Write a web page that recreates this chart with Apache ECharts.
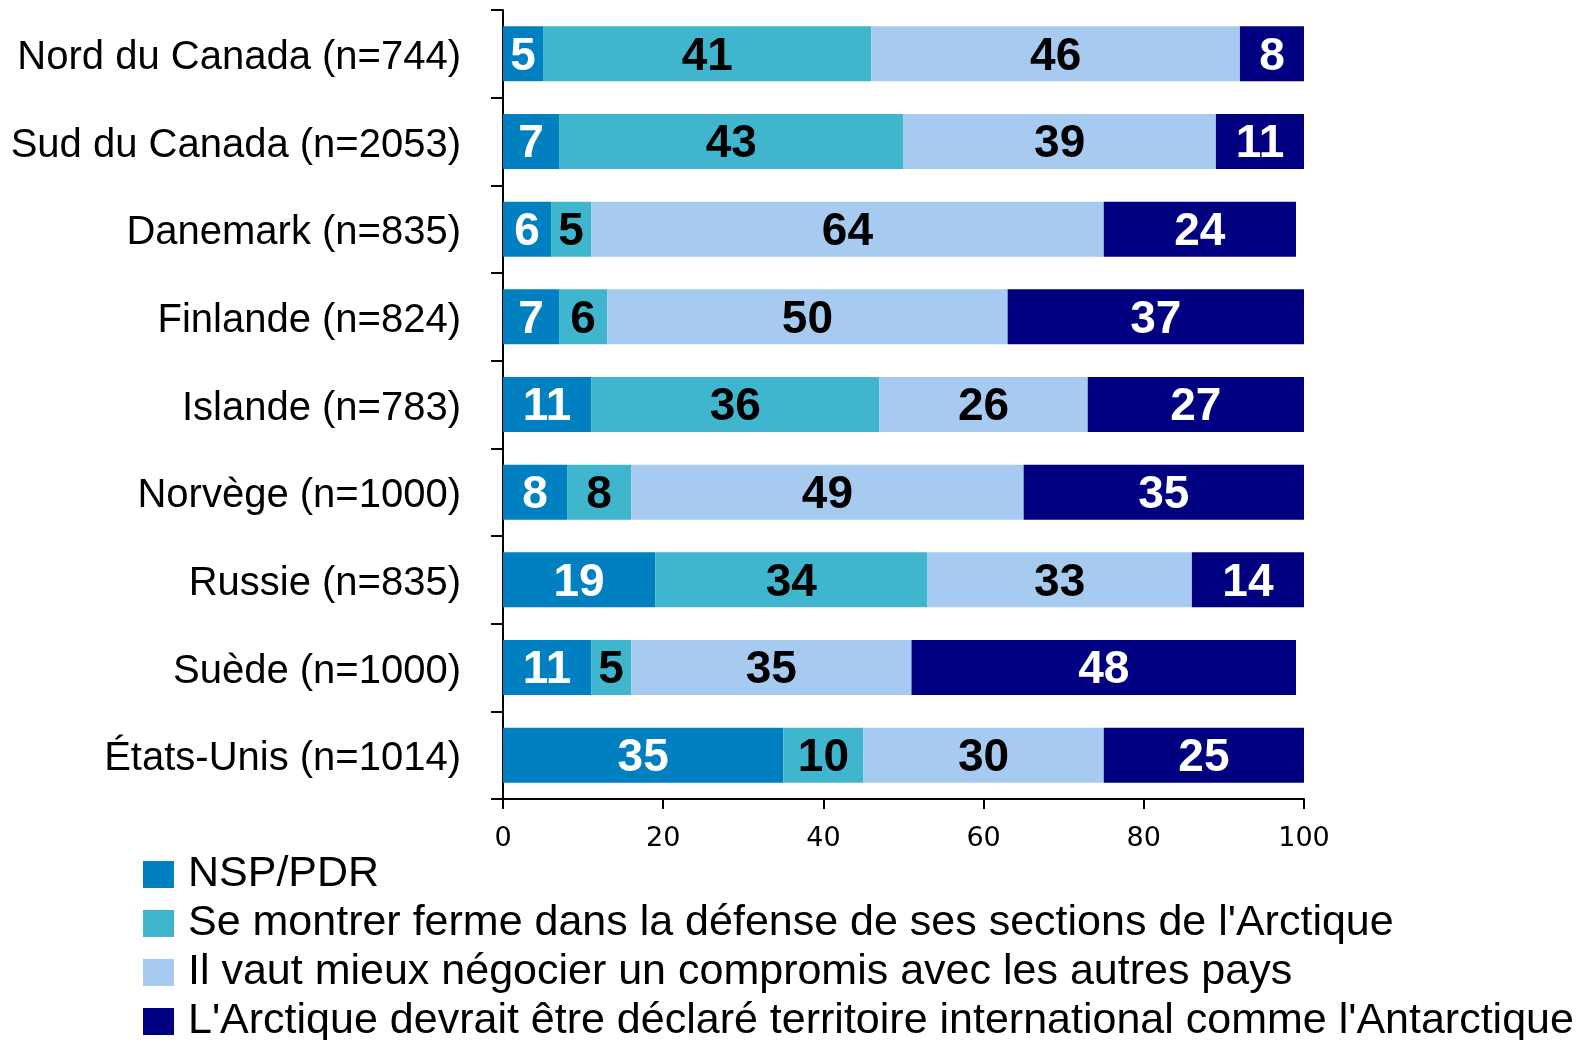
<!DOCTYPE html>
<html lang="fr">
<head>
    <meta charset="UTF-8">
    <title>Arctique - stacked bars</title>
    <script src="https://cdn.jsdelivr.net/npm/echarts@6/dist/echarts.min.js"></script>
    <style>
        html, body { margin: 0; padding: 0; background: #fff; }
    </style>
</head>
<body>
    <div id="myChart" style="width: 1593px; height: 1040px;"></div>
    <script>
        // categories (top to bottom)
        const categories = [
            'Nord du Canada (n=744)',
            'Sud du Canada (n=2053)',
            'Danemark (n=835)',
            'Finlande (n=824)',
            'Islande (n=783)',
            'Norvège (n=1000)',
            'Russie (n=835)',
            'Suède (n=1000)',
            'États-Unis (n=1014)'
        ];

        // series names
        const seriesNames = [
            'NSP/PDR',
            "Se montrer ferme dans la défense de ses sections de l'Arctique",
            'Il vaut mieux négocier un compromis avec les autres pays',
            "L'Arctique devrait être déclaré territoire international comme l'Antarctique"
        ];

        // values (%)
        const nspPdr    = [5, 7, 6, 7, 11, 8, 19, 11, 35];
        const ferme     = [41, 43, 5, 6, 36, 8, 34, 5, 10];
        const compromis = [46, 39, 64, 50, 26, 49, 33, 35, 30];
        const intl      = [8, 11, 24, 37, 27, 35, 14, 48, 25];

        const xTicks = [0, 20, 40, 60, 80, 100];

        const colors = ['#0080C0', '#40B6CE', '#A6CAF0', '#000080'];
        const labelColors = ['#fff', '#000', '#000', '#fff'];
        const allValues = [nspPdr, ferme, compromis, intl];

        var myChart = echarts.init(document.getElementById('myChart'));

        var series = allValues.map(function (vals, i) {
            return {
                name: seriesNames[i],
                type: 'bar',
                stack: 'total',
                barWidth: 55,
                data: vals,
                itemStyle: { color: colors[i] },
                label: {
                    show: true,
                    position: 'inside',
                    offset: [0, 3],
                    color: labelColors[i],
                    fontFamily: 'Liberation Sans',
                    fontWeight: 'bold',
                    fontSize: 46
                }
            };
        });

        var option = {
            animation: false,
            textStyle: { fontFamily: 'Liberation Sans' },
            grid: { left: 503, top: 10, width: 801, height: 789, outerBoundsMode: 'none', containLabel: false },
            legend: {
                type: 'plain',
                orient: 'vertical',
                left: 143,
                top: 853,
                height: 220,
                icon: 'rect',
                itemWidth: 31,
                itemHeight: 27,
                itemGap: 6,
                padding: 0,
                data: seriesNames,
                textStyle: {
                    fontSize: 43,
                    color: '#000',
                    fontFamily: 'Liberation Sans',
                    padding: [0, 0, 0, 9]
                }
            },
            xAxis: {
                type: 'value',
                min: 0,
                max: 100,
                interval: 20,
                splitLine: { show: false },
                axisLine: { show: true, lineStyle: { color: '#000', width: 2 } },
                axisTick: { show: true, length: 10, lineStyle: { color: '#000', width: 2 } },
                axisLabel: {
                    fontFamily: 'DejaVu Sans',
                    fontSize: 27,
                    color: '#000',
                    margin: 26,
                    formatter: function (v) { return xTicks.indexOf(v) >= 0 ? String(v) : ''; }
                }
            },
            yAxis: {
                type: 'category',
                inverse: true,
                data: categories,
                axisLine: { show: true, lineStyle: { color: '#000', width: 2 } },
                axisTick: { show: true, length: 12, lineStyle: { color: '#000', width: 2 } },
                axisLabel: {
                    fontFamily: 'Liberation Sans',
                    fontSize: 40,
                    color: '#000',
                    margin: 42,
                    verticalAlign: 'top',
                    lineHeight: 8
                }
            },
            series: series
        };

        myChart.setOption(option);
    </script>
</body>
</html>
